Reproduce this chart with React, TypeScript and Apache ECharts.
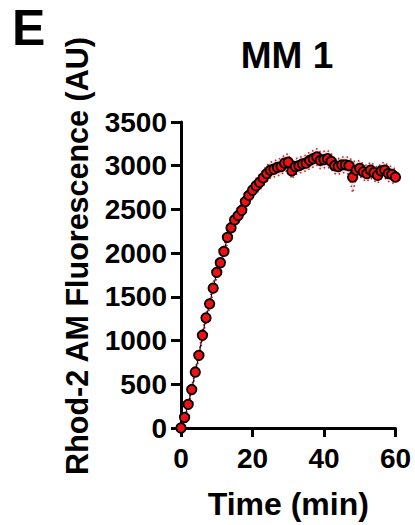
import React, { useEffect, useRef } from "react";
import * as echarts from "echarts";

// Time (min) for each measurement
const times: number[] = Array.from({ length: 61 }, (_, i) => i);

// Mean Rhod-2 AM fluorescence (AU)
const meanValues: number[] = [
  0, 120, 270, 440, 640, 830, 1060, 1260, 1420, 1600,
  1780, 1890, 2020, 2180, 2290, 2380, 2430, 2490, 2590, 2660,
  2720, 2770, 2810, 2860, 2910, 2950, 2960, 2980, 2990, 3030,
  3040, 2940, 2990, 3000, 3020, 3030, 3060, 3080, 3100, 3060,
  3070, 3080, 3050, 3000, 2990, 3010, 3010, 3000, 2870, 2950,
  2970, 2930, 2910, 2950, 2920, 2890, 2940, 2950, 2910, 2900,
  2870,
];

const errorValues: number[] = [
  15, 20, 25, 30, 35, 40, 45, 45, 50, 50,
  55, 60, 60, 65, 70, 70, 75, 75, 80, 80,
  85, 85, 90, 90, 90, 90, 90, 95, 95, 95,
  95, 90, 90, 90, 90, 90, 95, 95, 95, 95,
  95, 95, 90, 90, 90, 90, 90, 100, 180, 100,
  90, 90, 90, 90, 90, 90, 90, 90, 90, 90,
  90,
];

const xTicks = { min: 0, max: 60, interval: 20 };
const yTicks = { min: 0, max: 3500, interval: 500 };

const FONT = "'Liberation Sans', Arial, Helvetica, sans-serif";

export default function App() {
  const ref = useRef<HTMLDivElement>(null);

  useEffect(() => {
    if (!ref.current) return;
    const chart = echarts.init(ref.current, undefined, { renderer: "svg" });

    const lower = times.map((t, i) => [t, meanValues[i] - errorValues[i]]);
    const upper = times.map((t, i) => [t, meanValues[i] + errorValues[i]]);
    const mean = times.map((t, i) => [t, meanValues[i]]);

    chart.setOption({
      animation: false,
      backgroundColor: "#ffffff",
      grid: { left: 181, right: 19.5, top: 122, bottom: 96.5, containLabel: false },
      xAxis: {
        type: "value",
        min: xTicks.min,
        max: xTicks.max,
        interval: xTicks.interval,
        name: "Time (min)",
        nameLocation: "middle",
        nameGap: 60,
        nameTextStyle: { fontFamily: FONT, fontWeight: "bold", fontSize: 32, color: "#000" },
        axisLine: { show: true, onZero: false, lineStyle: { color: "#000", width: 3 } },
        axisTick: { show: true, length: 9, lineStyle: { color: "#000", width: 3 } },
        axisLabel: { fontFamily: FONT, fontWeight: "bold", fontSize: 28, color: "#000", margin: 16 },
        splitLine: { show: false },
      },
      yAxis: {
        type: "value",
        min: yTicks.min,
        max: yTicks.max,
        interval: yTicks.interval,
        axisLine: { show: true, onZero: false, lineStyle: { color: "#000", width: 3 } },
        axisTick: { show: true, length: 10, lineStyle: { color: "#000", width: 3 } },
        axisLabel: {
          fontFamily: FONT,
          fontWeight: "bold",
          fontSize: 28,
          color: "#000",
          margin: 14,
          formatter: (v: number) => String(v),
        },
        splitLine: { show: false },
      },
      graphic: [
        {
          type: "text",
          x: 12,
          y: 28,
          style: {
            text: "E",
            fontFamily: FONT,
            fontWeight: "bold",
            fontSize: 50,
            fill: "#000",
            align: "left",
            verticalAlign: "middle",
          },
        },
        {
          type: "text",
          x: 287,
          y: 55,
          style: { text: "MM 1", fontFamily: FONT, fontWeight: "bold", fontSize: 37, fill: "#000", align: "center", verticalAlign: "middle" },
        },
        {
          type: "text",
          x: 77,
          y: 256,
          rotation: Math.PI / 2,
          style: {
            text: "Rhod-2 AM Fluorescence (AU)",
            fontFamily: FONT,
            fontWeight: "bold",
            fontSize: 30.5,
            fill: "#000",
            align: "center",
            verticalAlign: "middle",
          },
        },
      ],
      series: [
        {
          name: "band",
          type: "custom",
          clip: false,
          data: [[0, 0]],
          renderItem: (_params: any, api: any) => {
            const pts: number[][] = [];
            upper.forEach((p) => pts.push(api.coord(p)));
            for (let i = lower.length - 1; i >= 0; i--) pts.push(api.coord(lower[i]));
            return {
              type: "polygon",
              shape: { points: pts },
              style: { fill: "rgba(240,170,178,0.4)", stroke: "none" },
            };
          },
          z: 1,
        },
        {
          name: "lower",
          type: "line",
          data: lower,
          symbol: "none",
          clip: false,
          lineStyle: { color: "#c22", width: 1.6, type: [1.5, 3] },
          z: 2,
        },
        {
          name: "upper",
          type: "line",
          data: upper,
          symbol: "none",
          clip: false,
          lineStyle: { color: "#c22", width: 1.6, type: [1.5, 3] },
          z: 2,
        },
        {
          name: "mean",
          type: "line",
          data: mean,
          symbol: "circle",
          symbolSize: 9.5,
          clip: false,
          lineStyle: { color: "#000", width: 1 },
          itemStyle: { color: "#ee1111", borderColor: "#000", borderWidth: 1.8 },
          z: 3,
        },
      ],
    });

    return () => chart.dispose();
  }, []);

  return (
    <div
      ref={ref}
      style={{ position: "fixed", left: 0, top: 0, width: 415, height: 525 }}
    />
  );
}
